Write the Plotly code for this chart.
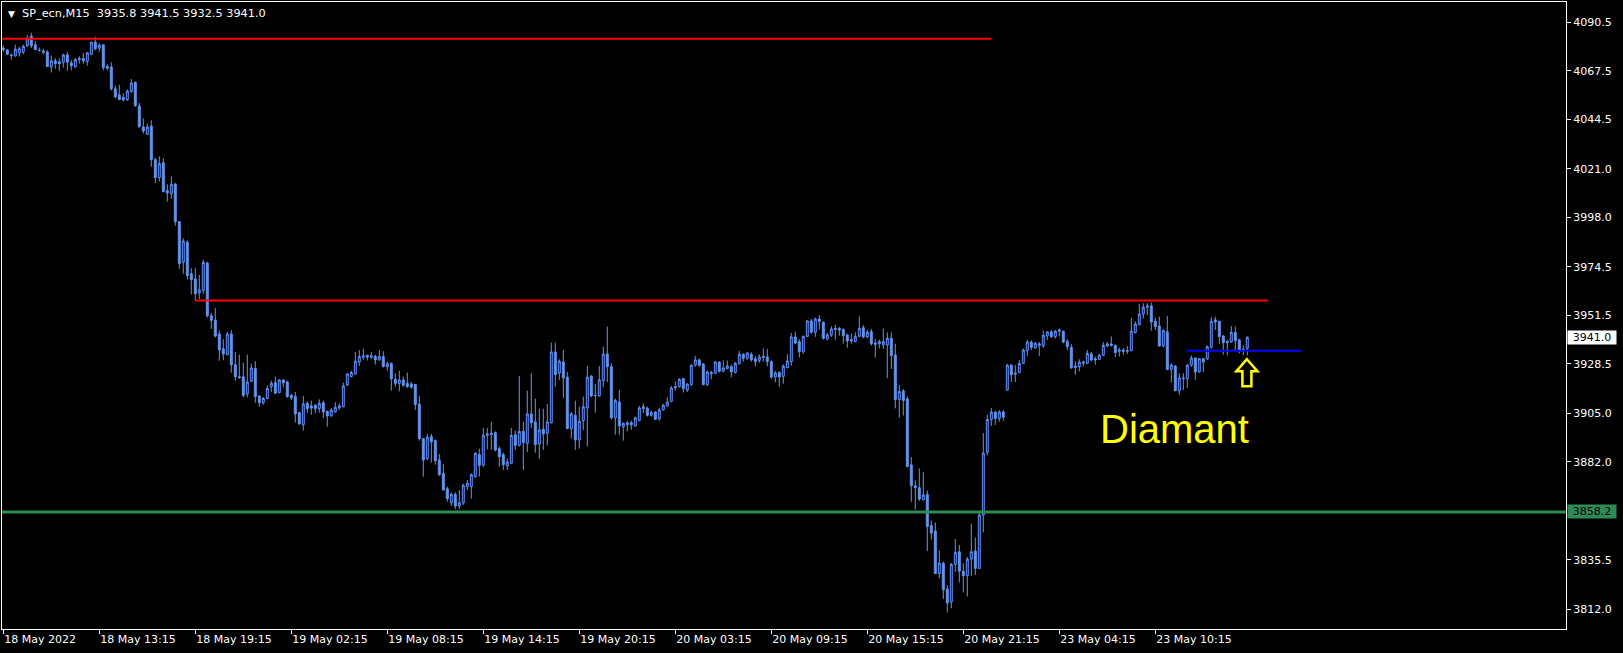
import plotly.graph_objects as go

# ---------------- data (SP_ecn, M15) ----------------
opens = [
 4078.2,4077.4,4075.0,4074.5,4076.0,4076.3,4079.4,4084.0,4079.8,4077.2,
 4076.9,4076.4,4069.3,4072.2,4071.7,4071.5,4075.0,4071.2,4069.3,4072.8,
 4073.3,4071.9,4075.3,4081.0,4078.2,4079.8,4069.5,4069.3,4058.9,4056.0,
 4054.8,4053.8,4057.6,4062.0,4050.8,4040.8,4037.4,4041.3,4025.3,4016.8,
 4023.8,4010.6,4009.2,4013.8,3995.9,3976.6,3986.1,3971.2,3968.7,3962.1,
 3963.3,3976.3,3951.3,3949.2,3942.6,3935.6,3932.8,3942.6,3928.0,3922.3,
 3922.3,3914.2,3920.2,3926.2,3913.2,3910.0,3912.0,3917.6,3919.5,3914.8,
 3920.8,3919.8,3913.5,3912.9,3905.3,3899.6,3909.7,3908.5,3908.8,3907.2,
 3910.0,3905.9,3903.7,3905.6,3907.5,3908.1,3918.3,3922.4,3923.6,3929.3,
 3931.6,3932.5,3931.6,3931.9,3930.3,3931.9,3927.1,3928.7,3921.1,3919.2,
 3920.8,3919.2,3918.9,3918.6,3909.4,3893.0,3883.5,3893.9,3892.0,3882.8,
 3876.5,3869.2,3862.5,3866.5,3861.0,3862.5,3870.2,3870.2,3874.9,3885.4,
 3880.3,3894.5,3894.8,3895.8,3888.2,3885.4,3880.0,3881.3,3894.8,3889.8,
 3896.4,3890.7,3904.7,3900.9,3890.4,3897.4,3895.5,3900.5,3934.1,3924.0,
 3929.3,3922.1,3897.7,3904.0,3892.3,3901.5,3907.5,3922.7,3913.5,3913.2,
 3920.5,3933.1,3927.1,3902.8,3910.3,3898.6,3899.6,3900.5,3899.0,3901.5,
 3908.1,3907.5,3904.0,3905.6,3902.4,3906.6,3908.5,3910.7,3917.0,3917.6,
 3921.4,3916.0,3918.6,3927.8,3930.3,3928.4,3918.6,3923.6,3924.0,3929.3,
 3924.9,3926.2,3927.1,3924.3,3928.5,3933.0,3931.1,3933.0,3930.8,3930.1,
 3931.4,3931.7,3929.5,3922.2,3924.4,3922.5,3926.6,3929.5,3941.2,3939.0,
 3934.2,3941.5,3948.8,3943.4,3949.7,3948.2,3940.2,3942.1,3944.7,3945.3,
 3944.7,3942.1,3939.3,3939.0,3941.5,3945.6,3941.2,3943.7,3938.3,3938.0,
 3937.4,3937.4,3940.6,3932.6,3911.5,3915.6,3911.8,3880.5,3870.6,3869.7,
 3864.0,3866.5,3851.7,3849.1,3828.9,3833.9,3821.6,3815.5,3833.3,3839.3,
 3830.1,3827.9,3835.8,3839.6,3831.4,3856.7,3886.5,3902.0,3905.6,3902.5,
 3905.6,3916.0,3927.8,3924.0,3924.3,3928.7,3934.7,3938.8,3936.0,3937.2,
 3936.9,3941.7,3943.6,3941.4,3943.9,3943.9,3939.1,3936.3,3927.4,3927.1,
 3928.7,3928.7,3933.1,3930.9,3930.6,3932.5,3936.9,3937.9,3937.2,3934.4,
 3935.0,3934.4,3934.7,3943.3,3947.0,3952.1,3955.3,3955.9,3948.6,3946.4,
 3936.9,3943.6,3925.8,3927.4,3915.7,3921.4,3921.4,3927.8,3931.2,3924.6,
 3930.9,3930.9,3936.3,3949.3,3948.6,3941.7,3939.1,3938.8,3943.3,3939.8,
 3935.3,3935.8,
]
highs = [
 4079.4,4077.6,4075.6,4079.8,4078.8,4079.8,4084.5,4085.5,4081.7,4078.5,
 4077.9,4077.2,4074.7,4073.4,4073.4,4075.6,4076.3,4072.5,4073.4,4074.4,
 4076.0,4076.3,4081.3,4083.6,4080.4,4080.0,4070.6,4071.5,4060.5,4060.8,
 4056.8,4058.6,4063.6,4062.4,4052.2,4044.9,4042.4,4044.0,4026.3,4026.9,
 4026.0,4013.6,4017.4,4014.0,3996.2,3988.0,3987.0,3973.8,3973.8,3970.6,
 3977.9,3976.9,3952.6,3954.9,3944.2,3940.1,3943.5,3944.5,3934.0,3932.8,
 3929.0,3932.8,3928.4,3929.7,3913.5,3912.6,3918.3,3920.5,3922.4,3921.1,
 3921.1,3920.5,3914.2,3915.1,3905.5,3913.2,3910.7,3911.0,3909.4,3911.6,
 3911.0,3906.2,3907.5,3910.3,3909.7,3919.5,3924.0,3925.2,3934.1,3935.0,
 3935.7,3932.8,3934.1,3932.8,3935.0,3934.4,3929.3,3929.0,3924.0,3925.2,
 3922.4,3924.3,3919.8,3918.9,3913.2,3893.3,3895.2,3895.2,3892.6,3885.7,
 3880.9,3870.2,3867.5,3867.5,3868.6,3871.5,3873.3,3876.5,3886.6,3888.2,
 3898.0,3898.0,3900.9,3896.4,3889.2,3886.3,3883.5,3898.0,3896.7,3922.7,
 3900.9,3915.7,3924.0,3911.9,3907.2,3907.2,3909.4,3938.5,3938.5,3930.6,
 3935.0,3924.6,3905.6,3911.0,3908.1,3912.9,3927.4,3923.0,3918.9,3927.4,
 3936.6,3946.1,3928.7,3911.9,3916.0,3900.5,3901.2,3901.5,3903.4,3908.5,
 3909.7,3908.1,3906.3,3905.9,3907.5,3909.4,3912.6,3918.0,3920.2,3921.7,
 3921.7,3919.2,3928.1,3932.2,3930.9,3928.7,3925.2,3925.2,3929.6,3929.6,
 3930.0,3930.0,3928.1,3929.3,3934.6,3933.3,3933.9,3933.9,3932.0,3933.0,
 3935.8,3935.5,3930.1,3925.1,3924.8,3928.2,3933.0,3943.1,3943.7,3940.2,
 3941.8,3949.1,3949.7,3950.4,3951.6,3948.5,3943.1,3946.3,3946.9,3945.9,
 3945.3,3942.8,3942.8,3943.4,3951.0,3946.9,3944.4,3945.0,3940.2,3939.9,
 3945.3,3943.4,3943.4,3938.0,3918.4,3916.5,3913.0,3884.2,3873.2,3878.9,
 3877.0,3868.4,3854.2,3853.2,3839.9,3834.6,3823.5,3834.0,3845.3,3842.5,
 3833.9,3836.8,3852.6,3846.0,3858.3,3895.6,3904.3,3907.5,3906.0,3906.5,
 3906.5,3928.4,3928.4,3927.8,3930.3,3935.7,3939.8,3939.5,3938.8,3938.8,
 3944.2,3943.9,3944.5,3944.5,3945.2,3944.2,3940.1,3937.9,3929.6,3930.6,
 3930.0,3935.0,3934.1,3931.9,3933.1,3938.8,3938.8,3941.4,3937.6,3936.0,
 3936.0,3936.9,3950.2,3948.6,3956.9,3957.2,3957.2,3957.5,3950.5,3950.8,
 3944.8,3951.2,3928.7,3927.8,3924.0,3924.0,3928.4,3932.5,3931.5,3931.2,
 3931.2,3937.2,3950.5,3950.8,3948.9,3942.0,3939.5,3946.4,3946.1,3940.4,
 3937.2,3941.5,
]
lows = [
 4076.6,4075.0,4072.8,4074.2,4074.2,4075.3,4078.8,4078.2,4077.2,4076.6,
 4075.3,4069.3,4066.6,4068.4,4067.4,4069.0,4067.4,4067.7,4069.0,4070.9,
 4070.9,4069.9,4075.0,4077.2,4076.6,4067.7,4067.7,4058.1,4054.5,4053.7,
 4052.9,4053.2,4057.0,4050.3,4040.5,4037.7,4037.0,4021.9,4014.3,4014.9,
 4010.0,4005.4,4006.7,3994.0,3973.5,3971.2,3968.4,3961.4,3958.6,3959.2,
 3961.7,3950.4,3945.0,3941.0,3929.9,3930.2,3932.5,3924.2,3920.4,3921.4,
 3912.5,3912.6,3919.8,3910.0,3908.1,3909.1,3911.6,3915.1,3914.2,3914.5,
 3917.3,3912.3,3911.3,3900.6,3899.7,3896.7,3905.0,3904.3,3905.0,3905.3,
 3902.8,3898.6,3903.4,3905.3,3906.6,3907.8,3918.0,3922.1,3923.3,3927.4,
 3930.3,3930.0,3930.6,3928.1,3930.0,3926.8,3925.2,3915.7,3917.6,3915.4,
 3917.6,3917.0,3916.7,3906.6,3892.0,3874.9,3882.8,3881.6,3880.6,3875.2,
 3868.3,3863.0,3861.0,3859.5,3859.6,3861.5,3868.6,3864.5,3874.5,3874.9,
 3879.7,3887.9,3887.6,3886.9,3879.7,3878.1,3878.1,3880.9,3887.6,3889.2,
 3878.1,3886.6,3898.0,3886.3,3883.5,3887.6,3889.8,3900.2,3917.6,3920.8,
 3912.3,3897.5,3893.0,3887.6,3888.2,3897.1,3889.2,3912.6,3905.3,3912.9,
 3917.3,3919.8,3902.1,3894.8,3894.8,3892.0,3896.4,3897.1,3898.6,3901.2,
 3905.0,3903.4,3903.4,3901.8,3901.5,3906.2,3908.1,3910.3,3915.7,3917.3,
 3914.8,3915.1,3918.0,3927.1,3927.1,3918.3,3918.0,3921.1,3923.6,3924.3,
 3924.6,3925.9,3922.1,3924.0,3928.2,3929.5,3930.4,3929.5,3927.3,3928.9,
 3929.5,3927.3,3921.3,3919.7,3917.5,3919.0,3926.3,3927.6,3937.7,3931.4,
 3933.3,3941.2,3942.8,3941.2,3944.7,3939.9,3939.6,3941.2,3939.9,3941.8,
 3938.0,3936.1,3938.0,3938.7,3941.2,3940.6,3940.6,3937.1,3931.4,3935.8,
 3935.5,3921.6,3926.0,3907.3,3902.9,3903.9,3879.2,3863.0,3859.3,3863.3,
 3863.7,3839.6,3845.0,3828.7,3826.7,3816.8,3810.5,3812.5,3829.8,3824.8,
 3820.0,3818.1,3827.9,3828.2,3831.1,3848.5,3885.0,3899.0,3899.5,3901.0,
 3901.5,3915.7,3919.8,3919.8,3924.0,3928.4,3932.2,3935.0,3935.7,3932.2,
 3936.0,3939.8,3940.7,3940.4,3941.4,3938.2,3935.0,3926.2,3923.3,3924.9,
 3927.1,3928.4,3929.6,3928.1,3930.3,3932.2,3936.3,3936.6,3931.6,3931.9,
 3932.8,3933.1,3934.4,3942.9,3946.7,3949.9,3951.5,3944.2,3944.5,3936.6,
 3936.3,3925.5,3919.5,3915.4,3913.8,3916.0,3917.0,3927.1,3920.8,3924.3,
 3924.6,3930.3,3935.7,3944.5,3937.9,3932.8,3932.5,3938.5,3934.4,3933.4,
 3932.5,3932.5,
]
closes = [
 4077.5,4075.3,4074.8,4077.7,4077.9,4079.1,4082.9,4079.4,4077.5,4077.1,
 4076.3,4069.5,4072.2,4070.9,4070.9,4075.0,4071.5,4069.9,4072.8,4073.3,
 4072.2,4076.0,4081.0,4077.9,4079.6,4069.0,4068.7,4059.0,4055.1,4053.8,
 4053.7,4057.9,4061.7,4051.0,4041.0,4038.9,4040.8,4025.3,4016.8,4023.4,
 4010.1,4009.5,4013.6,3995.9,3976.0,3986.7,3970.3,3968.4,3961.7,3963.5,
 3976.6,3951.3,3949.1,3941.6,3935.0,3933.1,3942.6,3928.0,3922.3,3921.9,
 3913.5,3919.8,3926.5,3912.9,3910.0,3912.0,3916.7,3919.2,3914.5,3920.8,
 3919.5,3912.9,3912.3,3904.7,3899.9,3909.4,3907.2,3907.5,3907.2,3909.7,
 3905.6,3903.7,3906.5,3907.8,3908.5,3918.0,3923.6,3924.3,3929.7,3931.9,
 3932.2,3931.6,3932.2,3930.3,3931.9,3927.1,3928.4,3921.4,3919.2,3920.8,
 3918.3,3917.6,3917.3,3909.1,3893.0,3882.8,3893.6,3891.4,3882.5,3875.9,
 3868.6,3864.5,3866.5,3861.0,3862.5,3870.8,3871.8,3875.9,3886.0,3880.3,
 3894.5,3895.2,3895.5,3887.6,3884.4,3880.6,3881.9,3894.5,3889.8,3896.4,
 3891.1,3904.7,3900.5,3890.1,3897.1,3895.2,3900.9,3934.1,3923.3,3929.7,
 3921.7,3897.7,3904.7,3892.3,3901.2,3908.1,3922.1,3913.2,3913.4,3920.8,
 3933.1,3927.1,3902.8,3911.0,3899.0,3900.2,3900.5,3899.6,3902.8,3907.5,
 3907.2,3904.0,3905.3,3902.1,3906.6,3908.8,3910.3,3917.0,3917.6,3921.1,
 3916.7,3918.9,3927.8,3930.3,3927.8,3918.6,3924.6,3924.3,3929.3,3924.9,
 3926.5,3927.4,3924.6,3928.7,3933.0,3931.1,3933.6,3930.4,3929.5,3931.7,
 3932.0,3929.5,3922.2,3924.1,3922.2,3927.3,3929.8,3941.2,3938.3,3934.2,
 3941.5,3948.8,3943.4,3949.7,3948.5,3940.6,3942.1,3945.0,3945.3,3944.4,
 3941.8,3939.3,3939.9,3941.5,3945.3,3941.2,3943.4,3938.0,3937.7,3939.0,
 3939.0,3940.6,3932.3,3911.5,3915.3,3911.1,3879.8,3870.6,3869.7,3864.3,
 3866.2,3851.3,3848.2,3828.9,3833.9,3821.3,3815.0,3833.3,3839.0,3830.1,
 3827.9,3835.8,3839.3,3831.4,3856.7,3886.1,3902.0,3905.5,3902.5,3905.6,
 3903.1,3927.8,3923.3,3923.6,3928.7,3935.0,3938.8,3936.3,3938.2,3937.9,
 3942.0,3943.6,3941.4,3943.9,3944.5,3938.8,3936.6,3926.5,3926.8,3929.3,
 3929.3,3933.4,3930.3,3930.3,3932.5,3937.2,3937.9,3937.2,3933.8,3935.0,
 3934.4,3934.7,3943.9,3947.4,3952.1,3955.3,3955.9,3948.3,3946.1,3936.9,
 3944.2,3925.8,3927.8,3915.7,3921.7,3921.7,3927.8,3931.2,3924.6,3930.9,
 3929.3,3936.6,3948.6,3948.3,3941.4,3938.5,3938.5,3943.3,3939.5,3934.7,
 3934.7,3941.0,
]
bars = list(range(len(closes)))

# time axis labels (every 24 bars of M15)
time_tick_bars = [0, 24, 48, 72, 96, 120, 144, 168, 192, 216, 240, 264, 288]
time_tick_labels = ["18 May 2022", "18 May 13:15", "18 May 19:15", "19 May 02:15",
                    "19 May 08:15", "19 May 14:15", "19 May 20:15", "20 May 03:15",
                    "20 May 09:15", "20 May 15:15", "20 May 21:15", "23 May 04:15",
                    "23 May 10:15"]
price_ticks = [4090.5, 4067.5, 4044.5, 4021.0, 3998.0, 3974.5, 3951.5,
               3928.5, 3905.0, 3882.0, 3835.5, 3812.0]

# drawn levels: (price, first bar, last bar)
red_top = (4082.7, -0.4, 246.9)
red_mid = (3958.5, 47.9, 316.2)
blue_level = (3934.7, 295.9, 324.7)
green_level = 3858.2
last_price = 3941.0
symbol = "SP_ecn,M15"
signal_bar, signal_price = 310.9, 3924.0
label_bar, label_price = 292.9, 3897.6

BEAR = "#6495ED"
BULL_FILL = "#0000FF"
FONT = "DejaVu Sans"

fig = go.Figure()
fig.add_trace(go.Candlestick(
    x=bars, open=opens, high=highs, low=lows, close=closes,
    increasing=dict(line=dict(color=BEAR, width=1), fillcolor=BULL_FILL),
    decreasing=dict(line=dict(color=BEAR, width=1), fillcolor=BEAR),
    whiskerwidth=0, hoverinfo="skip", showlegend=False,
))

arrow_path = "M 0,14 L 10.5,2 L 4.5,2 L 4.5,-13 L -4.5,-13 L -4.5,2 L -10.5,2 Z"

shapes = [
    dict(type="line", xref="x", yref="y", x0=red_top[1], x1=red_top[2], y0=red_top[0], y1=red_top[0],
         line=dict(color="#FF0000", width=2)),
    dict(type="line", xref="x", yref="y", x0=red_mid[1], x1=red_mid[2], y0=red_mid[0], y1=red_mid[0],
         line=dict(color="#FF0000", width=2)),
    dict(type="line", xref="x", yref="y", x0=blue_level[1], x1=blue_level[2], y0=blue_level[0], y1=blue_level[0],
         line=dict(color="#0000FF", width=2)),
    dict(type="line", xref="paper", yref="y", x0=0, x1=1, y0=green_level, y1=green_level,
         line=dict(color="#2E8B57", width=3)),
    dict(type="path", xref="x", yref="y", xsizemode="pixel", ysizemode="pixel",
         xanchor=signal_bar, yanchor=signal_price, path=arrow_path,
         line=dict(color="#FFFF00", width=2.5), fillcolor="rgba(0,0,0,0)"),
]

annotations = [
    dict(xref="paper", yref="paper", x=0, y=1, xanchor="left", yanchor="top", xshift=4, yshift=-5,
         text="▼", showarrow=False, font=dict(family=FONT, size=9, color="#FFFFFF")),
    dict(xref="paper", yref="paper", x=0, y=1, xanchor="left", yanchor="top", xshift=18, yshift=-3,
         text=f"{symbol}\u00a0\u00a0{opens[-1]:.1f} {highs[-1]:.1f} {lows[-1]:.1f} {closes[-1]:.1f}",
         showarrow=False, font=dict(family=FONT, size=11.3, color="#FFFFFF")),
    dict(xref="paper", yref="y", x=1, y=last_price, xanchor="left", yanchor="middle", xshift=1,
         text=f"{last_price:.1f}", showarrow=False, bgcolor="#FFFFFF", width=48, height=13,
         borderpad=0, font=dict(family=FONT, size=11, color="#000000")),
    dict(xref="paper", yref="y", x=1, y=green_level, xanchor="left", yanchor="middle", xshift=1,
         text=f"{green_level:.1f}", showarrow=False, bgcolor="#2E8B57", width=48, height=13,
         borderpad=0, font=dict(family=FONT, size=11, color="#000000")),
    dict(xref="x", yref="y", x=label_bar, y=label_price, text="Diamant", showarrow=False,
         font=dict(family="Liberation Sans", size=40, color="#FFFF00")),
]

fig.update_layout(
    width=1623, height=653,
    margin=dict(l=2, r=57, t=2, b=24, autoexpand=False),
    paper_bgcolor="#000000", plot_bgcolor="#000000",
    font=dict(family=FONT, size=11, color="#FFFFFF"),
    showlegend=False, boxgap=0.3,
    shapes=shapes, annotations=annotations,
    xaxis=dict(range=[-0.325, 390.675], rangeslider=dict(visible=False), automargin=False,
               tickmode="array", tickvals=time_tick_bars, ticktext=time_tick_labels,
               ticks="outside", ticklen=4, tickcolor="#FFFFFF", ticklabelposition="outside right",
               showgrid=False, zeroline=False, showline=True, linecolor="#FFFFFF", linewidth=1,
               mirror=True, tickfont=dict(family=FONT, size=11, color="#FFFFFF")),
    yaxis=dict(range=[3802.65, 4100.1], side="right", automargin=False,
               tickmode="array", tickvals=price_ticks, ticktext=[f"{v:.1f}" for v in price_ticks],
               ticks="outside", ticklen=4, tickcolor="#FFFFFF",
               showgrid=False, zeroline=False, showline=True, linecolor="#FFFFFF", linewidth=1,
               mirror=True, tickfont=dict(family=FONT, size=11, color="#FFFFFF")),
)

fig.write_html(
    "out.html",
    config={"displayModeBar": False, "staticPlot": True},
    post_script="document.body.style.margin='0';document.body.style.overflow='hidden';",
)
